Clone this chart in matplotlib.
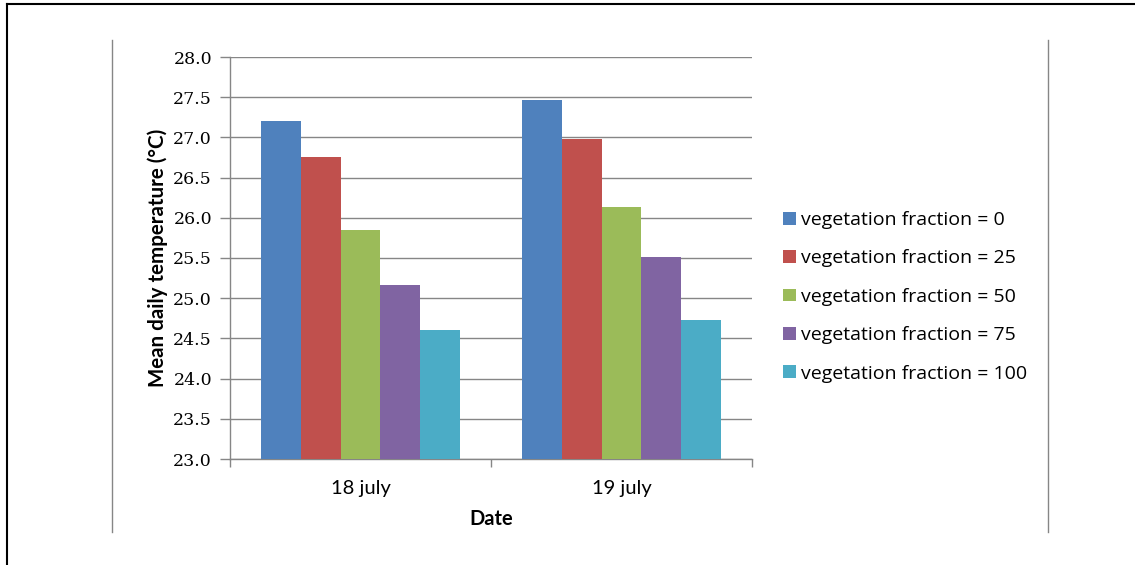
import matplotlib
matplotlib.use("Agg")
import matplotlib.pyplot as plt
from matplotlib.lines import Line2D
import numpy as np

dates = ["18 july", "19 july"]
series_labels = [
    "vegetation fraction = 0",
    "vegetation fraction = 25",
    "vegetation fraction = 50",
    "vegetation fraction = 75",
    "vegetation fraction = 100",
]
veg_0 = [27.20, 27.46]
veg_25 = [26.76, 26.98]
veg_50 = [25.85, 26.13]
veg_75 = [25.17, 25.51]
veg_100 = [24.60, 24.73]
colors = ["#4F81BD", "#C0504D", "#9BBB59", "#8064A2", "#4BACC6"]
y_ticks = [23.0, 23.5, 24.0, 24.5, 25.0, 25.5, 26.0, 26.5, 27.0, 27.5, 28.0]

W, H = 1135, 565
fig = plt.figure(figsize=(W / 100, H / 100), dpi=100)
ax = fig.add_axes([230 / W, 1 - 459 / H, (752 - 230) / W, (459 - 57) / H])

grey = "#868686"
series = [veg_0, veg_25, veg_50, veg_75, veg_100]
x = np.arange(len(dates))
group_w = 0.766
bw = group_w / len(series)
for i, (vals, col, lab) in enumerate(zip(series, colors, series_labels)):
    offs = -group_w / 2 + bw * (i + 0.5)
    ax.bar(x + offs, np.array(vals) - 23.0, bottom=23.0, width=bw, color=col,
           label=lab, zorder=3, linewidth=0)

ax.set_xlim(-0.5, len(dates) - 0.5)
ax.set_ylim(23.0, 28.0)
ax.set_yticks(y_ticks)
ax.set_yticklabels([f"{v:.1f}" for v in y_ticks], family="DejaVu Serif", fontsize=12.5)
ax.yaxis.grid(True, color=grey, linewidth=1.0, zorder=0)
ax.set_axisbelow(True)

# category boundaries carry the tick marks, centres carry the labels
ax.set_xticks(np.arange(len(dates) + 1) - 0.5)
ax.set_xticklabels([])
ax.set_xticks(x, minor=True)
ax.set_xticklabels(dates, minor=True, family="Lato", fontsize=14.5)
ax.tick_params(axis="x", which="minor", length=0, pad=15)
ax.tick_params(axis="x", which="major", length=6, color=grey, width=1)
ax.tick_params(axis="y", length=7, color=grey, width=1, pad=6)

for s in ["top", "right"]:
    ax.spines[s].set_visible(False)
for s in ["left", "bottom"]:
    ax.spines[s].set_color(grey)
    ax.spines[s].set_linewidth(1.0)

ax.set_xlabel("Date", family="Lato", fontweight="bold", fontsize=14.5, labelpad=9)
ax.set_ylabel("Mean daily temperature (\u00b0C)", family="Lato", fontweight="bold",
              fontsize=14.8, labelpad=4)

handles, labels = ax.get_legend_handles_labels()
leg = fig.legend(handles, labels, loc="upper left",
                 bbox_to_anchor=(783 / W, 1 - 211 / H),
                 frameon=False, prop={"family": "Open Sans", "size": 14},
                 handlelength=0.65, handleheight=0.65, handletextpad=0.3,
                 labelspacing=1.05, borderaxespad=0, borderpad=0)

# outer frame and side rules
fig.add_artist(Line2D([7 / W, 7 / W], [0, 1 - 4 / H], color="black", lw=1.5,
                      transform=fig.transFigure))
fig.add_artist(Line2D([7 / W, 1], [1 - 4 / H, 1 - 4 / H], color="black", lw=1.5,
                      transform=fig.transFigure))
for xp in (112, 1048):
    fig.add_artist(Line2D([xp / W, xp / W], [1 - 40 / H, 1 - 532 / H], color=grey,
                          lw=1.0, transform=fig.transFigure))

fig.savefig("out.png", dpi=100)
